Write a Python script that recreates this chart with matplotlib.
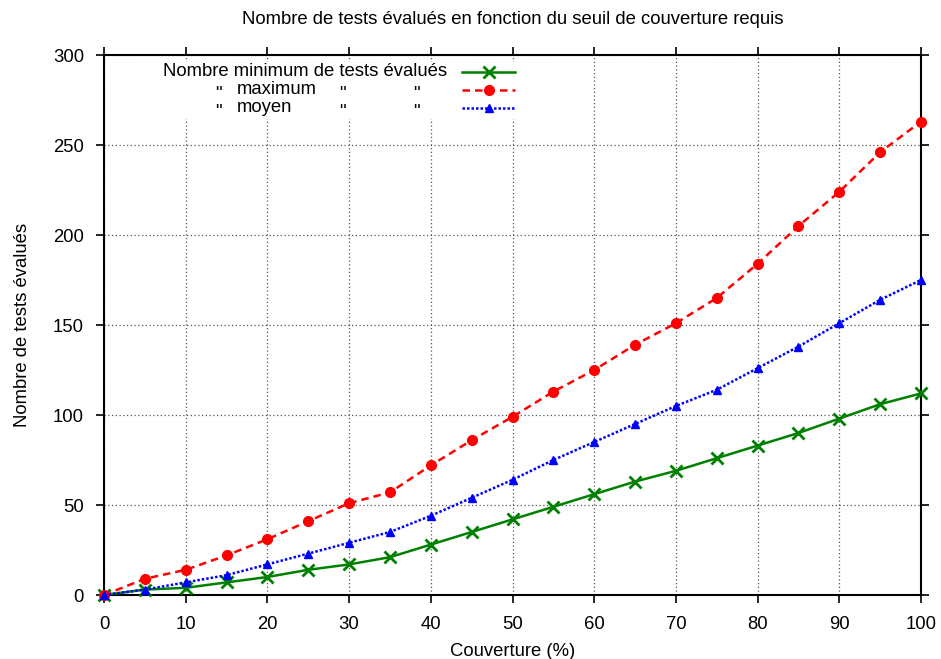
import matplotlib
matplotlib.use("Agg")
import matplotlib.pyplot as plt
from matplotlib.patches import Rectangle

plt.rcParams['font.family'] = ['Liberation Sans', 'DejaVu Sans']

# couverture (%)
couverture = [0, 5, 10, 15, 20, 25, 30, 35, 40, 45, 50,
              55, 60, 65, 70, 75, 80, 85, 90, 95, 100]

tests_min = [0, 3, 4, 7, 10, 14, 17, 21, 28, 35, 42,
             49, 56, 63, 69, 76, 83, 90, 98, 106, 112]
tests_max = [0, 9, 14, 22, 31, 41, 51, 57, 72, 86, 99,
             113, 125, 139, 151, 165, 184, 205, 224, 246, 263]
tests_moy = [0, 3, 7, 11, 17, 23, 29, 35, 44, 54, 64,
             75, 85, 95, 105, 114, 126, 138, 151, 164, 175]

x_ticks = list(range(0, 101, 10))
y_ticks = list(range(0, 301, 50))

TITLE = "Nombre de tests évalués en fonction du seuil de couverture requis"
XLABEL = "Couverture (%)"
YLABEL = "Nombre de tests évalués"

GREEN = "#008000"
RED = "#ff0000"
BLUE = "#0000ff"
FS = 13.3

W, H = 941, 659
L, R, T, B = 104, 921, 55, 595

fig = plt.figure(figsize=(W / 100, H / 100), dpi=100)
ax = fig.add_axes([L / W, 1 - B / H, (R - L) / W, (B - T) / H])


def px(x, y):
    # pixel position in the picture -> axes fraction
    return (x - L) / (R - L), (B - y) / (B - T)


styles = {
    "min": dict(color=GREEN, ls="-", marker="x", ms=8, mew=2),
    "max": dict(color=RED, ls=(0, (3, 2)), marker="o", ms=7),
    "moy": dict(color=BLUE, ls=(0, (1, 0.8)), marker="^", ms=5.5),
}

ax.plot(couverture, tests_min, lw=1.8, clip_on=False, zorder=3, **styles["min"])
ax.plot(couverture, tests_max, lw=1.8, clip_on=False, zorder=3, **styles["max"])
ax.plot(couverture, tests_moy, lw=1.8, clip_on=False, zorder=3, **styles["moy"])

ax.set_xlim(0, 100)
ax.set_ylim(0, 300)
ax.set_xticks(x_ticks)
ax.set_yticks(y_ticks)
ax.tick_params(direction="out", length=5.5, width=1.2, labelsize=FS,
               top=True, right=True)
ax.tick_params(axis="x", pad=9.5)
ax.tick_params(axis="y", pad=9)
for s in ax.spines.values():
    s.set_linewidth(1.5)
ax.set_axisbelow(True)
ax.grid(True, ls=(0, (1, 2)), color="#555555", lw=0.9)

ax.set_title(TITLE, fontsize=FS, pad=22.5)
ax.set_xlabel(XLABEL, fontsize=FS, labelpad=7)
ax.set_ylabel(YLABEL, fontsize=FS, labelpad=16)

# key, gnuplot style: opaque box, right-justified text, ditto marks
x0, y0 = px(150, 119)
x1, y1 = px(525, 62)
ax.add_patch(Rectangle((x0, y0), x1 - x0, y1 - y0, transform=ax.transAxes,
                       facecolor="white", edgecolor="none", zorder=1))

rows_y = [72, 90, 108]
tx, ty = px(447, rows_y[0])
ax.text(tx, ty, "Nombre minimum de tests évalués", transform=ax.transAxes,
        ha="right", va="center", fontsize=FS, zorder=2)
for word, yy in zip(["maximum", "moyen"], rows_y[1:]):
    for qx in [218, 342, 416]:
        a, b = px(qx, yy)
        ax.text(a, b - 0.008, '"', transform=ax.transAxes, ha="center",
                va="center", fontsize=FS, zorder=2)
    a, b = px(237, yy)
    ax.text(a, b, word, transform=ax.transAxes, ha="left", va="center",
            fontsize=FS, zorder=2)

for key, yy in zip(["min", "max", "moy"], rows_y):
    xa, ya = px(462, yy)
    xb, _ = px(515, yy)
    st = dict(styles[key])
    mk = st.pop("marker")
    ms = st.pop("ms")
    mew = st.pop("mew", 1)
    ax.plot([xa, xb], [ya, ya], transform=ax.transAxes, lw=1.8,
            clip_on=False, zorder=3, **st)
    ax.plot([(xa + xb) / 2], [ya], transform=ax.transAxes, ls="none",
            marker=mk, ms=ms, mew=mew, color=st["color"], clip_on=False,
            zorder=3)

fig.savefig("out.png", dpi=100)
